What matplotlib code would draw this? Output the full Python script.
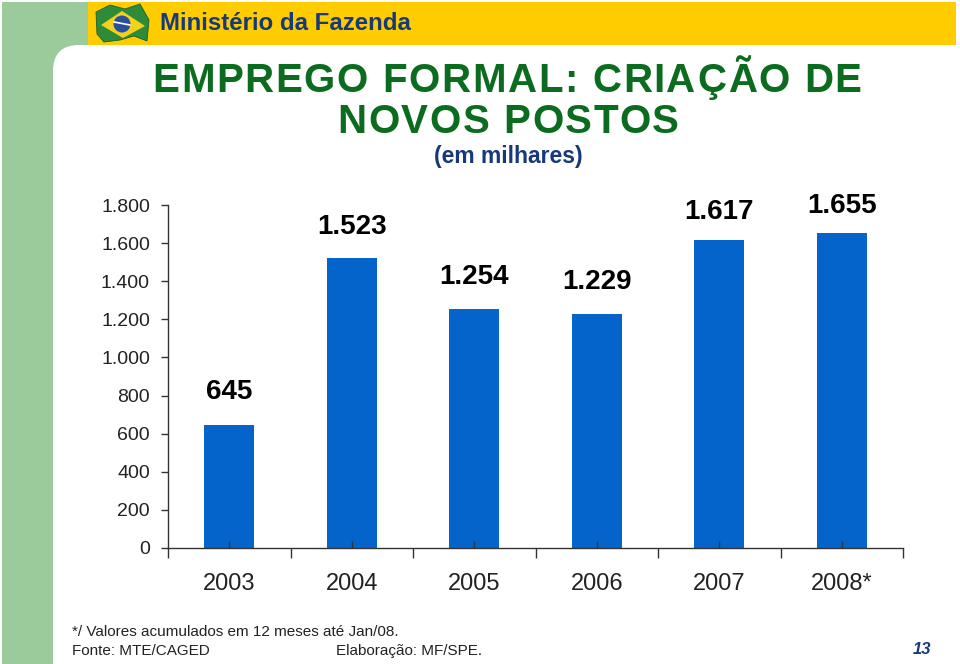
import matplotlib
matplotlib.use("Agg")
import matplotlib.pyplot as plt
from matplotlib.patches import Rectangle, FancyBboxPatch, Polygon, Circle
from matplotlib.ticker import FuncFormatter, FixedLocator

# data (em milhares)
anos = ["2003", "2004", "2005", "2006", "2007", "2008*"]
postos = [645, 1523, 1254, 1229, 1617, 1655]
yticks = [0, 200, 400, 600, 800, 1000, 1200, 1400, 1600, 1800]

# label offsets above bars, in points (as placed in the slide)
label_off = [24, 22, 23, 23, 20, 19]

C_BAR = "#0563CC"
C_GREEN_BG = "#9BCB9B"
C_YELLOW = "#FFCC00"
C_TITLE = "#0B6B1E"
C_NAVY = "#17387A"

plt.rcParams["font.family"] = ["Liberation Sans", "DejaVu Sans"]

fig = plt.figure(figsize=(9.6, 6.64), dpi=100)
fig.patch.set_facecolor("white")
renderer = fig.canvas.get_renderer()

# ---- slide background, pixel coords ----
bg = fig.add_axes([0, 0, 1, 1], zorder=-1)
bg.set_xlim(0, 960)
bg.set_ylim(664, 0)
bg.axis("off")


def text_w(s, **kw):
    t = bg.text(0, 0, s, **kw)
    w = t.get_window_extent(renderer).width
    t.remove()
    return w


def spaced_text(xc, y, s, track, **kw):
    """Letter-spaced text centred on xc (pixel units of bg)."""
    ref = text_w("X", **kw)
    offs = [text_w(s[:i] + "X", **kw) - ref if i else 0 for i in range(len(s))]
    total = text_w(s, **kw) + track * (len(s) - 1)
    x0 = xc - total / 2
    for i, ch in enumerate(s):
        if ch != " ":
            bg.text(x0 + offs[i] + track * i, y, ch, ha="left",
                    va="baseline", **kw)


bg.add_patch(Rectangle((2, 2), 90, 70, fc=C_GREEN_BG, ec="none"))
bg.add_patch(Rectangle((2, 2), 51, 662, fc=C_GREEN_BG, ec="none"))
bg.add_patch(FancyBboxPatch((53 + 26, 45 + 26), 1000, 700,
                            boxstyle="round,pad=26", fc="white", ec="none"))
bg.add_patch(Rectangle((88, 2), 868, 43, fc=C_YELLOW, ec="none"))

# flag
bg.add_patch(Polygon([(96, 12), (110, 5), (125, 9), (140, 4), (149, 20),
                      (147, 41), (134, 36), (120, 40), (104, 42), (97, 34)],
                     fc="#2E8B3A", ec="#1E5E28", lw=0.6))
bg.add_patch(Polygon([(101, 25), (122, 11), (145, 26), (123, 38)],
                     fc="#F2D21A", ec="none"))
bg.add_patch(Circle((122, 24), 8.5, fc="#2A4FA0", ec="none"))
bg.plot([114, 130], [22, 25], color="white", lw=1.2)

bg.text(160, 23, "Ministério da Fazenda", fontsize=17.3, fontweight="bold",
        color=C_NAVY, ha="left", va="center")

title_kw = dict(fontsize=29, fontweight="bold", color=C_TITLE)
spaced_text(507, 92, "EMPREGO FORMAL: CRIAÇÃO DE", 1.6, **title_kw)
spaced_text(508, 133, "NOVOS POSTOS", 1.6, **title_kw)
bg.text(508, 157, "(em milhares)", fontsize=16.5, fontweight="bold",
        color=C_NAVY, ha="center", va="center")

bg.text(72, 632, "*/ Valores acumulados em 12 meses até Jan/08.",
        fontsize=11, color="#222222", ha="left", va="center")
bg.text(72, 651, "Fonte: MTE/CAGED", fontsize=11, color="#222222",
        ha="left", va="center")
bg.text(336, 651, "Elaboração: MF/SPE.", fontsize=11, color="#222222",
        ha="left", va="center")
bg.text(922, 649, "13", fontsize=12, fontweight="bold", style="italic",
        color=C_NAVY, ha="center", va="center")

# ---- chart ----
W, H = 960, 664
ax = fig.add_axes([168 / W, 1 - 548 / H, (903 - 168) / W, (548 - 205) / H])
ax.set_facecolor("none")

x = list(range(len(anos)))
bars = ax.bar(x, postos, width=0.41, color=C_BAR, zorder=1)

for xi, v, off in zip(x, postos, label_off):
    ax.annotate(f"{v:,}".replace(",", "."), (xi, v), xytext=(0, off),
                textcoords="offset points", ha="center", va="center",
                fontsize=20, fontweight="bold", color="black")

ax.set_xlim(-0.5, len(anos) - 0.5)
ax.set_ylim(0, 1800)

ax.set_yticks(yticks)
ax.yaxis.set_major_formatter(FuncFormatter(lambda v, p: f"{int(v):,}".replace(",", ".")))
ax.tick_params(axis="y", direction="out", length=5, width=1, pad=8,
               labelsize=14, labelcolor="#222222", color="#333333")

ax.set_xticks(x)
ax.set_xticklabels(anos)
ax.xaxis.set_minor_locator(FixedLocator([i - 0.5 for i in range(len(anos) + 1)]))
ax.tick_params(axis="x", which="major", direction="in", length=5, width=1,
               pad=18, labelsize=17, labelcolor="#222222", color="#333333")
ax.tick_params(axis="x", which="minor", direction="out", length=7, width=1,
               color="#333333")

for s in ("top", "right"):
    ax.spines[s].set_visible(False)
for s in ("left", "bottom"):
    ax.spines[s].set_color("#333333")
    ax.spines[s].set_linewidth(1)
    ax.spines[s].set_zorder(3)

fig.savefig("out.png", dpi=100, facecolor="white")
